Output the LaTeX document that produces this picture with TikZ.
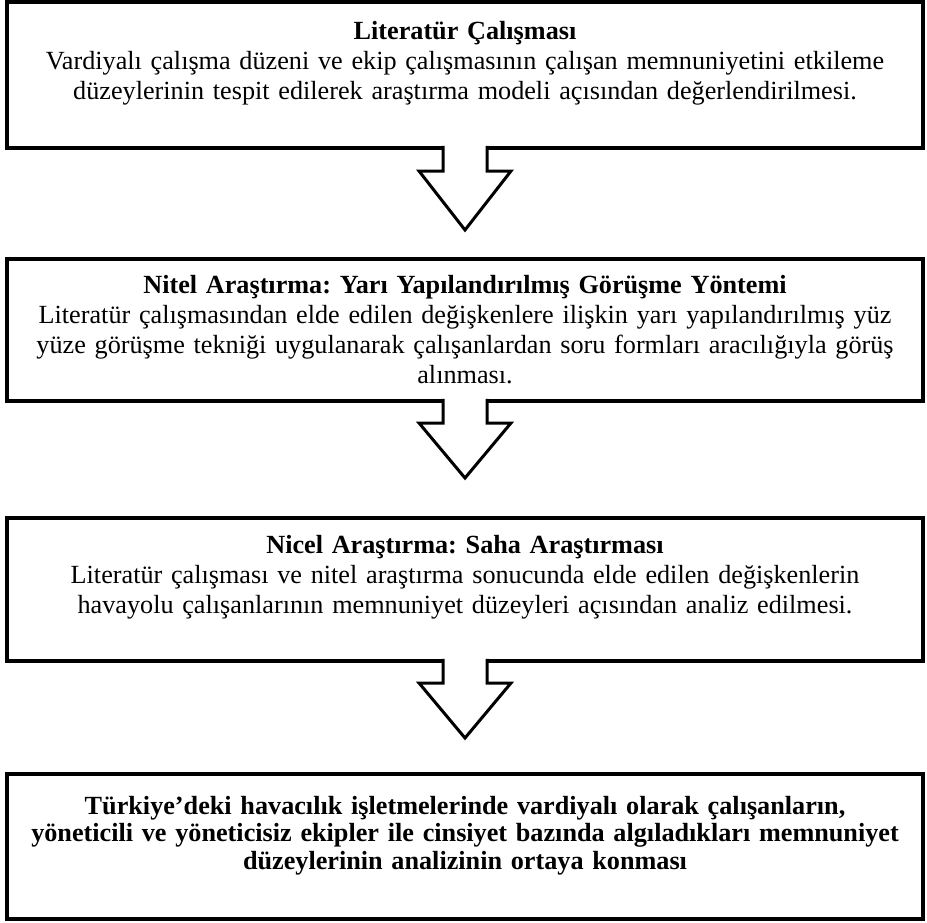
\documentclass[tikz,border=0pt]{standalone}
\usepackage{fontspec}
\setmainfont{Liberation Serif}
\usepackage{tikz}
\usetikzlibrary{positioning,calc}
\frenchspacing

\begin{document}
\begin{tikzpicture}[
      node distance=111pt,
      box/.style={rectangle, draw, line width=3.5pt, outer sep=0pt, align=center, text width=890pt, inner xsep=13pt, inner ysep=6pt, font=\fontsize{26.2pt}{30pt}\selectfont},
      boldbox/.style={box, font=\fontsize{26.2pt}{27.5pt}\selectfont\bfseries},
      blockarrow/.style={draw, fill=white, line width=3pt, line join=miter}
    ]
    \useasboundingbox (0pt,0pt) rectangle (927pt,-922pt);

    % ============ BOXES ============
    % Literature
    \node[box, minimum height=146pt] (lit) at (465pt,-75pt) {\textbf{Literatür Çalışması}\\
      Vardiyalı çalışma düzeni ve ekip çalışmasının çalışan memnuniyetini etkileme\\
      düzeylerinin tespit edilerek araştırma modeli açısından değerlendirilmesi.\\ \mbox{}};

    % Qualitative research
    \node[box, minimum height=142pt, below=111pt of lit] (nitel) {\textbf{Nitel Araştırma: Yarı Yapılandırılmış Görüşme Yöntemi}\\
      Literatür çalışmasından elde edilen değişkenlere ilişkin yarı yapılandırılmış yüz\\
      yüze görüşme tekniği uygulanarak çalışanlardan soru formları aracılığıyla görüş\\
      alınması.};

    % Quantitative research
    \node[box, minimum height=143pt, below=117pt of nitel] (nicel) {\textbf{Nicel Araştırma: Saha Araştırması}\\
      Literatür çalışması ve nitel araştırma sonucunda elde edilen değişkenlerin\\
      havayolu çalışanlarının memnuniyet düzeyleri açısından analiz edilmesi.\\ \mbox{}};

    % Result
    \node[boldbox, minimum height=145pt, below=113pt of nicel] (sonuc) {Türkiye’deki havacılık işletmelerinde vardiyalı olarak çalışanların,\\
      yöneticili ve yöneticisiz ekipler ile cinsiyet bazında algıladıkları memnuniyet\\
      düzeylerinin analizinin ortaya konması\\ \mbox{}};

    % ============ ARROWS ============
    \draw[blockarrow] ($(lit.south)+(-22pt,2.2pt)$) -- ++(0,-25.2pt) -- ++(-24pt,0) -- ($(nitel.north)+(0,29pt)$)
      -- ($(lit.south)+(46pt,-23pt)$) -- ++(-24pt,0) -- ++(0,25.2pt);
    \draw[blockarrow] ($(nitel.south)+(-22pt,2.2pt)$) -- ++(0,-24.2pt) -- ++(-24pt,0) -- ($(nicel.north)+(0,40pt)$)
      -- ($(nitel.south)+(46pt,-22pt)$) -- ++(-24pt,0) -- ++(0,24.2pt);
    \draw[blockarrow] ($(nicel.south)+(-22pt,2.2pt)$) -- ++(0,-24.2pt) -- ++(-24pt,0) -- ($(sonuc.north)+(0,36pt)$)
      -- ($(nicel.south)+(46pt,-22pt)$) -- ++(-24pt,0) -- ++(0,24.2pt);

  \end{tikzpicture}
\end{document}
